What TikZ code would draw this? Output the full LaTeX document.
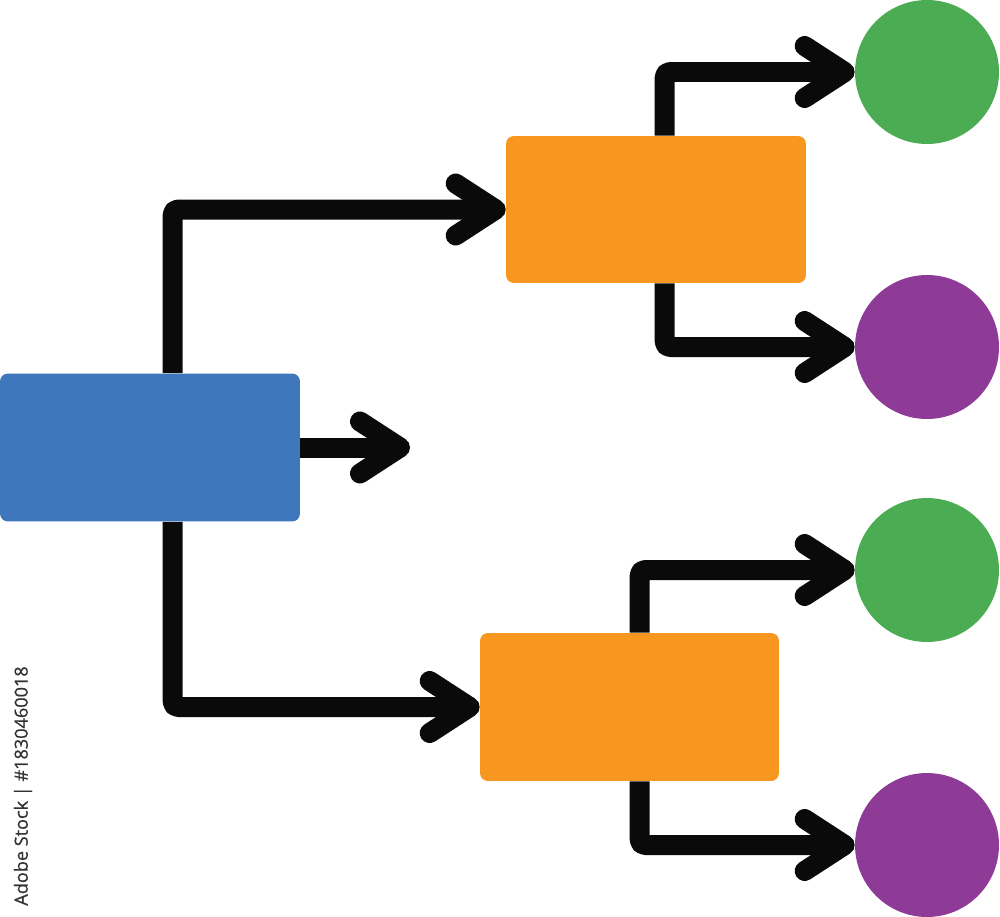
\documentclass[tikz,border=0pt]{standalone}
\usepackage{fontspec}
\newfontfamily\stockfont[FakeBold=0.8]{Open Sans}
\usetikzlibrary{arrows.meta,positioning}

\definecolor{boxblue}{HTML}{3F77BD}
\definecolor{boxorange}{HTML}{F7971F}
\definecolor{dotgreen}{HTML}{4BAC53}
\definecolor{dotpurple}{HTML}{8E3B97}
\definecolor{linkblack}{HTML}{0A0A0A}

\begin{document}
\begin{tikzpicture}[x=0.02cm,y=-0.02cm]

\useasboundingbox (0,0) rectangle (1000,916);

%%%%%%%%%%%%%%%%%%%%%%%%%%%%%%%%%%%%%%%%%%%%%%%%%%%%%%%%%%%%%%
%vertex
%boxes
\tikzstyle{box}=[rectangle,rounded corners=4.5pt,inner sep=0pt,minimum width=6cm,minimum height=2.96cm]
%dots
\tikzstyle{dot}=[circle,inner sep=0pt,minimum size=2.88cm]
%links
\tikzstyle{link}=[line width=0.4cm,color=linkblack,line join=round,rounded corners=3pt,-{Straight Barb[length=0.8cm,width=1.04cm,round]}]

%root
\node[box,fill=boxblue] (root) at (150,447.5) {};
\coordinate (rootout) at (410,447.5);
%1
\node[box,fill=boxorange,minimum height=2.94cm] (branch1) at (656,209.5) {};
\node[dot,fill=dotgreen] (leaf11) at (927,72) {};
\node[dot,fill=dotpurple] (leaf12) at (927,347) {};
%2
\node[box,fill=boxorange,minimum width=5.98cm] (branch2) at (629.5,707) {};
\node[dot,fill=dotgreen] (leaf21) at (927,570) {};
\node[dot,fill=dotpurple] (leaf22) at (927,845) {};

%stamp
\node[rotate=90,font=\stockfont\fontsize{10.3}{11}\selectfont,color=black!80] (stamp) at (23,786) {Adobe Stock | \#1830460018};

%%%%%%%%%%%%%%%%%%%%%%%%%%%%%%%%%%%%%%%%%%%%%%%%%%%%%%%%%%%%%%
%ARROWS

%root->1,2
\draw[link] ([xshift=3.46cm]root.north west) |- (branch1.west);
\draw[link] ([xshift=3.46cm]root.south west) |- (branch2.west);
\draw[link] (root.east) -- (rootout);
%1->leaves
\draw[link] ([xshift=3.18cm]branch1.north west) |- (leaf11.west);
\draw[link] ([xshift=3.18cm]branch1.south west) |- (leaf12.west);
%2->leaves
\draw[link] ([xshift=3.2cm]branch2.north west) |- (leaf21.west);
\draw[link] ([xshift=3.2cm]branch2.south west) |- (leaf22.west);
\end{tikzpicture}
\end{document}
